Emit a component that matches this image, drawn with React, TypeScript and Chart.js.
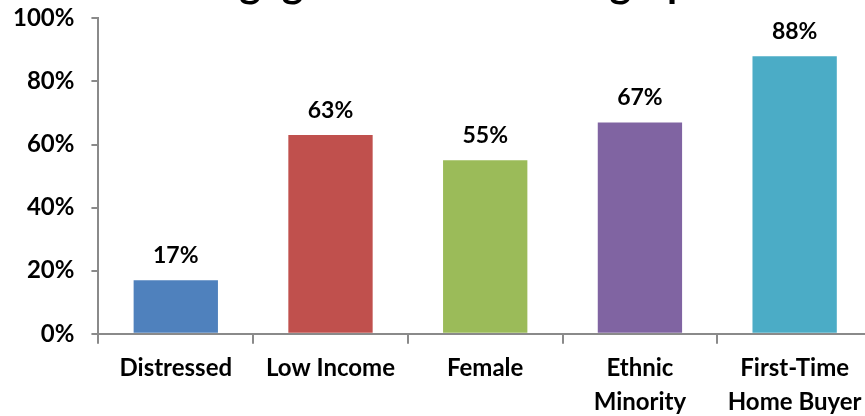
import React, { useEffect, useRef } from "react";
import { Chart, registerables } from "chart.js";

Chart.register(...registerables);

const TITLE = "Mortgage Loans to Demographic";
const CATEGORIES: (string | string[])[] = [
  "Distressed",
  "Low Income",
  "Female",
  ["Ethnic", "Minority"],
  ["First-Time", "Home Buyer"],
];
const VALUES = [17, 63, 55, 67, 88];
const COLORS = ["#4F81BD", "#C0504D", "#9BBB59", "#8064A2", "#4BACC6"];
const Y_TICKS = [0, 20, 40, 60, 80, 100];

const FONT = "Lato, 'Open Sans', sans-serif";
const AXIS_GRAY = "#8a8a8a";
const SHIFT_X = 4;
const SHIFT_Y = 13;

const titlePlugin = {
  id: "cutTitle",
  afterDraw(chart: any) {
    const ctx = chart.ctx;
    ctx.save();
    ctx.font = `bold 41px ${FONT}`;
    ctx.fillStyle = "#000";
    ctx.textBaseline = "alphabetic";
    ctx.textAlign = "left";
    const lead = ctx.measureText("Mort").width + ctx.measureText("g").width / 2;
    ctx.fillText(TITLE, 250 + SHIFT_X - lead, SHIFT_Y - 3);
    ctx.restore();
  },
};

const valueLabelPlugin = {
  id: "valueLabels",
  afterDatasetsDraw(chart: any) {
    const ctx = chart.ctx;
    const meta = chart.getDatasetMeta(0);
    ctx.save();
    ctx.font = `bold 23px ${FONT}`;
    ctx.fillStyle = "#000";
    ctx.textAlign = "center";
    ctx.textBaseline = "alphabetic";
    meta.data.forEach((bar: any, i: number) => {
      ctx.fillText(`${VALUES[i]}%`, bar.x, bar.y - 17);
    });
    ctx.restore();
  },
};

export default function App() {
  const ref = useRef<HTMLCanvasElement | null>(null);

  useEffect(() => {
    if (!ref.current) return;
    const chart = new Chart(ref.current, {
      type: "bar",
      data: {
        labels: CATEGORIES,
        datasets: [
          {
            data: VALUES,
            backgroundColor: COLORS,
            borderWidth: 0,
            categoryPercentage: 1,
            barPercentage: 0.545,
          },
        ],
      },
      options: {
        responsive: false,
        animation: false,
        devicePixelRatio: 1,
        layout: { padding: { top: 6, left: 0, right: 3, bottom: 0 } },
        plugins: {
          legend: { display: false },
          title: { display: false },
          tooltip: { enabled: false },
        },
        scales: {
          x: {
            offset: true,
            grid: {
              display: true,
              drawOnChartArea: false,
              drawTicks: true,
              tickLength: 10,
              color: AXIS_GRAY,
              lineWidth: 2,
              offset: true,
            },
            border: { display: true, color: AXIS_GRAY, width: 2 },
            ticks: {
              color: "#000",
              font: { family: FONT, size: 24, weight: "bold", lineHeight: 1.4 },
              padding: 8,
              maxRotation: 0,
              autoSkip: false,
            },
          },
          y: {
            min: 0,
            max: 100,
            afterBuildTicks(scale: any) {
              scale.ticks = Y_TICKS.map((v) => ({ value: v }));
            },
            grid: {
              display: true,
              drawOnChartArea: false,
              drawTicks: true,
              tickLength: 7,
              color: AXIS_GRAY,
              lineWidth: 2,
            },
            border: { display: true, color: AXIS_GRAY, width: 2 },
            ticks: {
              color: "#000",
              font: { family: FONT, size: 24, weight: "bold" },
              padding: 17,
              callback: (v: any) => `${v}%`,
            },
          },
        },
      },
      plugins: [titlePlugin, valueLabelPlugin],
    });
    return () => chart.destroy();
  }, []);

  return (
    <div
      style={{
        position: "fixed",
        left: 0,
        top: 0,
        width: 865,
        height: 416,
        overflow: "hidden",
        background: "#fff",
      }}
    >
      <canvas
        ref={ref}
        width={879}
        height={440}
        style={{ display: "block", marginLeft: -SHIFT_X, marginTop: -SHIFT_Y }}
      />
    </div>
  );
}
